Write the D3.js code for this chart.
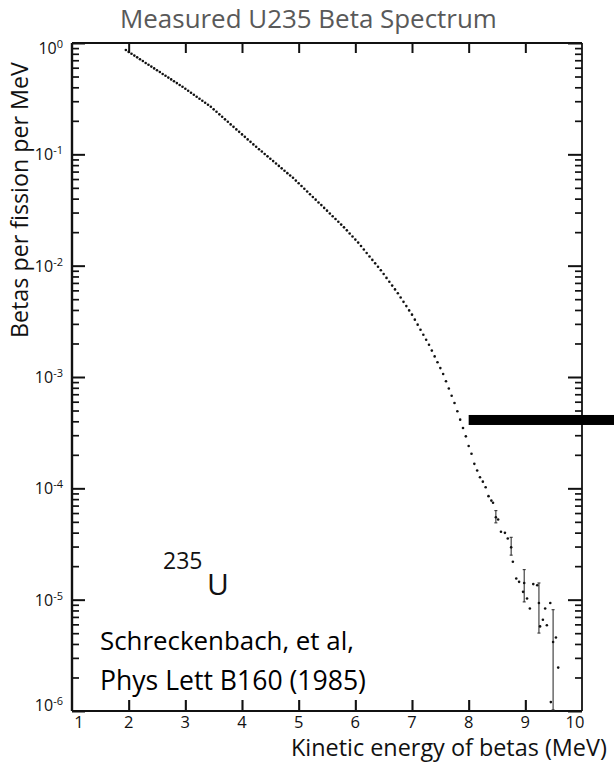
<!DOCTYPE html>
<html><head><meta charset="utf-8">
<script src="https://cdn.jsdelivr.net/npm/d3@7"></script>
<style>body{margin:0;background:#fff}svg{display:block}text{font-family:"Open Sans",sans-serif}</style>
</head><body>
<script>
// ---- data ----
const energies = [
1.95,2.00,2.05,2.10,2.15,2.20,2.25,2.30,2.35,2.40,2.45,2.50,2.55,2.60,2.65,2.70,2.75,2.80,2.85,2.90,2.95,
3.00,3.05,3.10,3.15,3.20,3.25,3.30,3.35,3.40,3.45,3.50,3.55,3.60,3.65,3.70,3.75,3.80,3.85,3.90,3.95,
4.00,4.05,4.10,4.15,4.20,4.25,4.30,4.35,4.40,4.45,4.50,4.55,4.60,4.65,4.70,4.75,4.80,4.85,4.90,4.95,
5.00,5.05,5.10,5.15,5.20,5.25,5.30,5.35,5.40,5.45,5.50,5.55,5.60,5.65,5.70,5.75,5.80,5.85,5.90,5.95,
6.00,6.05,6.10,6.15,6.20,6.25,6.30,6.35,6.40,6.45,6.50,6.55,6.60,6.65,6.70,6.75,6.80,6.85,6.90,6.95,
7.00,7.05,7.10,7.15,7.20,7.25,7.30,7.35,7.40,7.45,7.50,7.55,7.60,7.65,7.70,7.75,7.80,7.85,7.90,7.95,
8.00,8.05,8.10,8.15,8.20,8.25,8.30,8.35,8.40,8.43];
// log10 of betas per fission per MeV
const log10Betas = [
-0.063,-0.080,-0.096,-0.113,-0.129,-0.146,-0.162,-0.179,-0.195,-0.212,-0.228,-0.245,-0.261,-0.278,-0.294,-0.311,-0.327,-0.344,-0.360,-0.377,-0.393,
-0.411,-0.429,-0.447,-0.465,-0.483,-0.501,-0.519,-0.537,-0.555,-0.573,-0.596,-0.618,-0.641,-0.663,-0.686,-0.708,-0.731,-0.753,-0.776,-0.798,
-0.821,-0.843,-0.866,-0.888,-0.911,-0.932,-0.954,-0.975,-0.997,-1.018,-1.040,-1.061,-1.083,-1.104,-1.126,-1.147,-1.169,-1.190,-1.211,-1.236,
-1.260,-1.285,-1.309,-1.334,-1.358,-1.383,-1.407,-1.432,-1.456,-1.481,-1.506,-1.531,-1.556,-1.581,-1.606,-1.631,-1.656,-1.683,-1.711,-1.738,
-1.766,-1.793,-1.824,-1.855,-1.886,-1.917,-1.948,-1.979,-2.010,-2.041,-2.075,-2.110,-2.144,-2.179,-2.213,-2.248,-2.286,-2.325,-2.363,-2.402,
-2.440,-2.485,-2.530,-2.575,-2.620,-2.665,-2.710,-2.763,-2.815,-2.868,-2.920,-2.973,-3.038,-3.103,-3.168,-3.233,-3.308,-3.383,-3.458,-3.533,
-3.62,-3.69,-3.78,-3.84,-3.90,-3.94,-3.99,-4.07,-4.11,-4.13];
const tailEnergies = [8.48,8.52,8.57,8.64,8.69,8.75,8.78,8.84,8.89,8.96,8.98,9.03,9.08,9.14,9.21,9.24,9.26,9.31,9.35,9.38,9.44,9.49,9.54,9.58,9.45];
const tailLog10 = [-4.26,-4.28,-4.39,-4.40,-4.45,-4.53,-4.66,-4.81,-4.84,-4.93,-4.85,-4.99,-5.08,-4.86,-4.87,-5.03,-5.24,-5.18,-5.08,-5.23,-5.03,-5.38,-5.34,-5.61,-5.92];
const errEnergies = [8.48,8.75,8.98,9.24,9.49];
const errHighLog10 = [-4.20,-4.44,-4.73,-4.85,-5.09];
const errLowLog10 = [-4.31,-4.60,-5.02,-5.30,-5.99];
const xTickValues = [1,2,3,4,5,6,7,8,9,10];
const yDecadeExps = [0,-1,-2,-3,-4,-5,-6];
const markerBarLog10 = -3.386;  // thick black marker bar level
const markerBarStartE = 8.0;

const W = 614, H = 767;
const svg = d3.select("body").append("svg").attr("width", W).attr("height", H);

const x = d3.scaleLinear().domain([1, 10]).range([72, 582]);
const y = d3.scaleLog().domain([1e-6, 1]).range([711, 43]);

function fit(sel, target){
  const n = sel.node();
  const fs = parseFloat(sel.attr("font-size"));
  const w = n.getComputedTextLength();
  sel.attr("font-size", fs * target / w);
}

// title
const title = svg.append("text").attr("x", 120).attr("y", 28).attr("font-size", 26)
  .attr("fill", "#595959").text("Measured U235 Beta Spectrum");
fit(title, 377);

// axes ticks (inward)
const allLog = y.ticks().filter(v => v >= 1e-6 && v <= 1);
const decades = yDecadeExps.map(e => Math.pow(10, e));
const minor = allLog.filter(v => !decades.some(d => Math.abs(v - d) / d < 1e-6));
const inner = xTickValues.filter(v => v > 1 && v < 10);

function styleAxis(g, w){ g.select(".domain").remove(); g.selectAll(".tick line").attr("stroke", "#111").attr("stroke-width", w); g.selectAll(".tick text").remove(); }

svg.append("g").attr("transform", `translate(${x(1)},0)`).call(d3.axisRight(y).tickValues(minor).tickSize(7)).call(g => styleAxis(g, 1.7));
svg.append("g").attr("transform", `translate(${x(1)},0)`).call(d3.axisRight(y).tickValues(decades).tickSize(13)).call(g => styleAxis(g, 2));
svg.append("g").attr("transform", `translate(${x(10)},0)`).call(d3.axisLeft(y).tickValues(minor).tickSize(7)).call(g => styleAxis(g, 1.7));
svg.append("g").attr("transform", `translate(${x(10)},0)`).call(d3.axisLeft(y).tickValues(decades).tickSize(14)).call(g => styleAxis(g, 2));
svg.append("g").attr("transform", `translate(0,${y(1e-6)})`).call(d3.axisTop(x).tickValues(inner).tickSize(11)).call(g => styleAxis(g, 2.1));
svg.append("g").attr("transform", `translate(0,${y(1)})`).call(d3.axisBottom(x).tickValues(inner).tickSize(10)).call(g => styleAxis(g, 2));

// frame
const fr = svg.append("g").attr("stroke", "#111").attr("fill", "none");
fr.append("line").attr("x1", x(1)).attr("x2", x(1)).attr("y1", y(1)).attr("y2", y(1e-6)).attr("stroke-width", 2.4);
fr.append("line").attr("x1", x(10)).attr("x2", x(10)).attr("y1", y(1)).attr("y2", y(1e-6)).attr("stroke-width", 1.8);
fr.append("line").attr("x1", x(1)).attr("x2", x(10)).attr("y1", y(1)).attr("y2", y(1)).attr("stroke-width", 1.8);
fr.append("line").attr("x1", x(1)).attr("x2", x(10)).attr("y1", y(1e-6)).attr("y2", y(1e-6)).attr("stroke-width", 2);

// y tick labels
yDecadeExps.forEach((e, i) => {
  let yy = y(Math.pow(10, e)) + 6;
  if (e === 0) yy += 5;
  if (e === -6) yy -= 6;
  const t = svg.append("text").attr("x", 63).attr("y", yy).attr("text-anchor", "end").attr("font-size", 16).attr("fill", "#111");
  t.append("tspan").text("10");
  t.append("tspan").attr("dy", -6).attr("font-size", 11).text(e === 0 ? "0" : String(e));
});

// x tick labels
xTickValues.forEach(v => {
  let xx = x(v);
  if (v === 1) xx += 7;
  if (v === 10) xx -= 7;
  svg.append("text").attr("x", xx).attr("y", 728).attr("text-anchor", "middle").attr("font-size", 16.5).attr("fill", "#111").text(v);
});

// axis titles
const xt = svg.append("text").attr("x", 291).attr("y", 756).attr("font-size", 21).attr("fill", "#111").text("Kinetic energy of betas (MeV)");
fit(xt, 316);
const yt = svg.append("text").attr("transform", "translate(28,338) rotate(-90)").attr("font-size", 19).attr("fill", "#111").text("Betas per fission per MeV");
fit(yt, 276);

// error bars
const eb = svg.append("g").attr("stroke", "#333").attr("stroke-width", 1.1);
errEnergies.forEach((e, i) => {
  const xx = x(e), y1 = y(Math.pow(10, errHighLog10[i])), y2 = y(Math.pow(10, errLowLog10[i]));
  eb.append("line").attr("x1", xx).attr("x2", xx).attr("y1", y1).attr("y2", y2);
  eb.append("line").attr("x1", xx - 1.5).attr("x2", xx + 1.5).attr("y1", y1).attr("y2", y1);
  eb.append("line").attr("x1", xx - 1.5).attr("x2", xx + 1.5).attr("y1", y2).attr("y2", y2);
});

// data points
const mainData = energies.map((e, i) => ({e, v: Math.pow(10, log10Betas[i])}));
const tailData = tailEnergies.map((e, i) => ({e, v: Math.pow(10, tailLog10[i])}));
svg.append("g").selectAll("circle").data(mainData.concat(tailData)).join("circle")
  .attr("cx", d => x(d.e)).attr("cy", d => y(d.v)).attr("r", 1.3).attr("fill", "#111");

// marker bar
const by = y(Math.pow(10, markerBarLog10));
svg.append("rect").attr("x", x(markerBarStartE)).attr("y", by - 5).attr("width", W - x(markerBarStartE)).attr("height", 10).attr("fill", "#000");

// annotations
svg.append("text").attr("x", 163).attr("y", 569).attr("font-size", 23).attr("fill", "#111").text("235");
svg.append("text").attr("x", 207).attr("y", 595).attr("font-size", 30).attr("fill", "#111").text("U");
const c1 = svg.append("text").attr("x", 100).attr("y", 650).attr("font-size", 21).attr("fill", "#000").text("Schreckenbach, et al,");
fit(c1, 254);
const c2 = svg.append("text").attr("x", 100).attr("y", 690).attr("font-size", 21).attr("fill", "#000").text("Phys Lett B160 (1985)");
fit(c2, 266);
</script>
</body></html>
